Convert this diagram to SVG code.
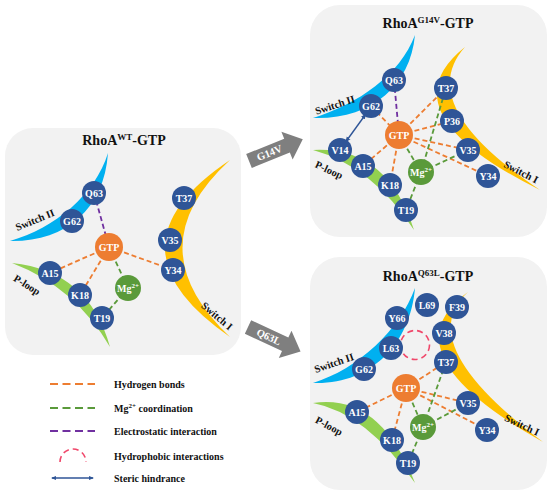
<svg xmlns="http://www.w3.org/2000/svg" width="550" height="495" viewBox="0 0 550 495">
<style>
.panel{fill:#f2f2f2}
.sw2{fill:#00b0f0}
.sw1{fill:#ffc000}
.ploop{fill:#92d050}
.res circle{fill:#2f5597}
.gtp circle{fill:#ed7d31}
.mg circle{fill:#5a9a3a}
.nl{font-family:"Liberation Serif","Times New Roman",serif;font-weight:bold;font-size:10px;fill:#fff;text-anchor:middle}
.rl{font-family:"Liberation Serif","Times New Roman",serif;font-weight:bold;font-size:10.5px;fill:#111;text-anchor:middle}
.title{font-family:"Liberation Serif","Times New Roman",serif;font-weight:bold;font-size:14px;fill:#111;text-anchor:middle}
.leg{font-family:"Liberation Serif","Times New Roman",serif;font-weight:bold;font-size:10px;fill:#111}
.h{stroke:#ed7d31;stroke-width:1.8;stroke-dasharray:5 3;fill:none}
.m{stroke:#5a9a3a;stroke-width:1.8;stroke-dasharray:5 3;fill:none}
.e{stroke:#7030a0;stroke-width:1.8;stroke-dasharray:5 3;fill:none}
.hp{stroke:#f0476a;stroke-width:1.6;stroke-dasharray:6 4;fill:none}
.st{stroke:#2f5597;stroke-width:1.4;fill:none;marker-start:url(#ah);marker-end:url(#ah)}
.lg{stroke-dasharray:8 4.5}
.arrow{fill:#7f7f7f}
.at{font-family:"Liberation Serif","Times New Roman",serif;font-weight:bold;font-size:10.5px;fill:#fff;text-anchor:middle}
</style>
<defs>
<marker id="ah" viewBox="0 0 10 10" refX="8" refY="5" markerWidth="4" markerHeight="4" orient="auto-start-reverse" markerUnits="strokeWidth">
<path d="M0,1 L10,5 L0,9 Z" fill="#2f5597"/>
</marker>
<path id="barrow" d="M0,-7.5 L41,-7.5 L41,-15 L58,0 L41,15 L41,7.5 L0,7.5 Z"/>
</defs>

<!-- panels -->
<g id="panels">
<rect class="panel" x="5" y="128" width="236" height="227" rx="28"/>
<rect class="panel" x="310" y="5" width="237" height="232" rx="30"/>
<rect class="panel" x="310" y="257" width="237" height="233" rx="30"/>
</g>

<!-- mutation arrows -->
<g id="arrow-g14v">
<use href="#barrow" class="arrow" transform="translate(249,161) rotate(-22)"/>
<text class="at" transform="translate(249,161) rotate(-22) translate(22,3.7)">G14V</text>
</g>
<g id="arrow-q63l">
<use href="#barrow" class="arrow" transform="translate(248,327) rotate(25)"/>
<text class="at" transform="translate(248,327) rotate(25) translate(23,3.7)">Q63L</text>
</g>

<!-- titles -->
<text class="title" x="124" y="145">RhoA<tspan font-size="9" dy="-5">WT</tspan><tspan dy="5">-GTP</tspan></text>
<text class="title" x="428" y="28">RhoA<tspan font-size="9" dy="-5">G14V</tspan><tspan dy="5">-GTP</tspan></text>
<text class="title" x="428" y="281">RhoA<tspan font-size="9" dy="-5">Q63L</tspan><tspan dy="5">-GTP</tspan></text>

<!-- structural regions -->
<g id="regions-wt">
<path class="sw2" d="M10,241 C65,242 104,210 108,153 C95,195 55,228 10,241 Z"/>
<path class="sw1" d="M230,160 Q100,247 230,337 Q135,247 230,160 Z"/>
<path class="ploop" d="M12,263 Q89,271 110,347 Q75,287 12,263 Z"/>
<text class="rl" transform="translate(35,220) rotate(-22)" dy="3.5">Switch II</text>
<text class="rl" transform="translate(27,285) rotate(32)" dy="3.5">P-loop</text>
<text class="rl" transform="translate(217,316) rotate(40)" dy="3.5">Switch I</text>
</g>
<g id="regions-g14v">
<path class="sw2" d="M313,118 C370,120 410,87 415,35 C400,75 358,104 313,118 Z"/>
<path class="sw1" d="M465,47 Q383,112 540,190 Q413,105 465,47 Z"/>
<path class="ploop" d="M313,150 Q387,146 414,230 Q372,166 313,150 Z"/>
<text class="rl" transform="translate(335,105) rotate(-18)" dy="3.5">Switch II</text>
<text class="rl" transform="translate(329,170) rotate(25)" dy="3.5">P-loop</text>
<text class="rl" transform="translate(521,172) rotate(27)" dy="3.5">Switch I</text>
</g>
<g id="regions-q63l">
<path class="sw2" d="M313,383 C370,385 410,345 415,288 C400,330 358,369 313,383 Z"/>
<path class="sw1" d="M468,292 Q384,353 543,442 Q411,343 468,292 Z"/>
<path class="ploop" d="M313,403 Q380,393 415,483 Q366,413 313,403 Z"/>
<text class="rl" transform="translate(334,363) rotate(-19)" dy="3.5">Switch II</text>
<text class="rl" transform="translate(329,426) rotate(28)" dy="3.5">P-loop</text>
<text class="rl" transform="translate(522,425) rotate(25)" dy="3.5">Switch I</text>
</g>

<!-- connectors -->
<g id="connectors">
<!-- WT -->
<line class="e" x1="94" y1="193" x2="109" y2="247"/>
<line class="h" x1="109" y1="247" x2="50" y2="273"/>
<line class="h" x1="109" y1="247" x2="80" y2="295"/>
<line class="h" x1="109" y1="247" x2="173" y2="270"/>
<line class="m" x1="109" y1="247" x2="128" y2="288"/>
<line class="m" x1="128" y1="288" x2="102" y2="318"/>
<!-- G14V -->
<line class="e" x1="394" y1="80" x2="399" y2="135"/>
<line class="h" x1="371" y1="106" x2="399" y2="135"/>
<line class="h" x1="399" y1="135" x2="363" y2="166"/>
<line class="h" x1="399" y1="135" x2="390" y2="185"/>
<line class="h" x1="399" y1="135" x2="446" y2="88"/>
<line class="h" x1="399" y1="135" x2="452" y2="121"/>
<line class="h" x1="399" y1="135" x2="468" y2="150"/>
<line class="h" x1="399" y1="135" x2="488" y2="176"/>
<line class="m" x1="399" y1="135" x2="421" y2="172"/>
<line class="m" x1="421" y1="172" x2="446" y2="88"/>
<line class="m" x1="421" y1="172" x2="468" y2="150"/>
<line class="m" x1="421" y1="172" x2="406" y2="210"/>
<line class="st" x1="365.5" y1="114.5" x2="346" y2="141.5"/>
<!-- Q63L -->
<circle class="hp" cx="415" cy="345" r="14.5"/>
<line class="h" x1="406" y1="388" x2="446" y2="362"/>
<line class="h" x1="406" y1="388" x2="357" y2="412"/>
<line class="h" x1="406" y1="388" x2="392" y2="440"/>
<line class="h" x1="406" y1="388" x2="468" y2="403"/>
<line class="h" x1="406" y1="388" x2="487" y2="430"/>
<line class="m" x1="406" y1="388" x2="423" y2="427"/>
<line class="m" x1="423" y1="427" x2="446" y2="362"/>
<line class="m" x1="423" y1="427" x2="468" y2="403"/>
<line class="m" x1="423" y1="427" x2="408" y2="463"/>
</g>

<!-- WT nodes -->
<g id="wt-q63" class="res"><circle cx="94" cy="193" r="12"/><text class="nl" x="94" y="196.5">Q63</text></g>
<g id="wt-g62" class="res"><circle cx="72" cy="221" r="12"/><text class="nl" x="72" y="224.5">G62</text></g>
<g id="wt-gtp" class="gtp"><circle cx="109" cy="247" r="14"/><text class="nl" x="109" y="250.5">GTP</text></g>
<g id="wt-a15" class="res"><circle cx="50" cy="273" r="12"/><text class="nl" x="50" y="276.5">A15</text></g>
<g id="wt-k18" class="res"><circle cx="80" cy="295" r="12"/><text class="nl" x="80" y="298.5">K18</text></g>
<g id="wt-t19" class="res"><circle cx="102" cy="318" r="12"/><text class="nl" x="102" y="321.5">T19</text></g>
<g id="wt-mg" class="mg"><circle cx="128" cy="288" r="13"/><text class="nl" x="128" y="291.5">Mg<tspan font-size="7" dy="-4">2+</tspan></text></g>
<g id="wt-t37" class="res"><circle cx="184" cy="198" r="12"/><text class="nl" x="184" y="201.5">T37</text></g>
<g id="wt-v35" class="res"><circle cx="170" cy="240" r="12"/><text class="nl" x="170" y="243.5">V35</text></g>
<g id="wt-y34" class="res"><circle cx="173" cy="270" r="12"/><text class="nl" x="173" y="273.5">Y34</text></g>

<!-- G14V nodes -->
<g id="g14v-q63" class="res"><circle cx="394" cy="80" r="12"/><text class="nl" x="394" y="83.5">Q63</text></g>
<g id="g14v-g62" class="res"><circle cx="371" cy="106" r="12"/><text class="nl" x="371" y="109.5">G62</text></g>
<g id="g14v-gtp" class="gtp"><circle cx="399" cy="135" r="14"/><text class="nl" x="399" y="138.5">GTP</text></g>
<g id="g14v-v14" class="res"><circle cx="340" cy="150" r="12"/><text class="nl" x="340" y="153.5">V14</text></g>
<g id="g14v-a15" class="res"><circle cx="363" cy="166" r="12"/><text class="nl" x="363" y="169.5">A15</text></g>
<g id="g14v-k18" class="res"><circle cx="390" cy="185" r="12"/><text class="nl" x="390" y="188.5">K18</text></g>
<g id="g14v-t19" class="res"><circle cx="406" cy="210" r="12"/><text class="nl" x="406" y="213.5">T19</text></g>
<g id="g14v-mg" class="mg"><circle cx="421" cy="172" r="13"/><text class="nl" x="421" y="175.5">Mg<tspan font-size="7" dy="-4">2+</tspan></text></g>
<g id="g14v-t37" class="res"><circle cx="446" cy="88" r="12"/><text class="nl" x="446" y="91.5">T37</text></g>
<g id="g14v-p36" class="res"><circle cx="452" cy="121" r="12"/><text class="nl" x="452" y="124.5">P36</text></g>
<g id="g14v-v35" class="res"><circle cx="468" cy="150" r="12"/><text class="nl" x="468" y="153.5">V35</text></g>
<g id="g14v-y34" class="res"><circle cx="488" cy="176" r="12"/><text class="nl" x="488" y="179.5">Y34</text></g>

<!-- Q63L nodes -->
<g id="q63l-l69" class="res"><circle cx="427" cy="305" r="12"/><text class="nl" x="427" y="308.5">L69</text></g>
<g id="q63l-f39" class="res"><circle cx="457" cy="307" r="12"/><text class="nl" x="457" y="310.5">F39</text></g>
<g id="q63l-y66" class="res"><circle cx="397" cy="318" r="12"/><text class="nl" x="397" y="321.5">Y66</text></g>
<g id="q63l-v38" class="res"><circle cx="444" cy="333" r="12"/><text class="nl" x="444" y="336.5">V38</text></g>
<g id="q63l-l63" class="res"><circle cx="391" cy="348" r="12"/><text class="nl" x="391" y="351.5">L63</text></g>
<g id="q63l-t37" class="res"><circle cx="446" cy="362" r="12"/><text class="nl" x="446" y="365.5">T37</text></g>
<g id="q63l-g62" class="res"><circle cx="364" cy="369" r="12"/><text class="nl" x="364" y="372.5">G62</text></g>
<g id="q63l-gtp" class="gtp"><circle cx="406" cy="388" r="14"/><text class="nl" x="406" y="391.5">GTP</text></g>
<g id="q63l-v35" class="res"><circle cx="468" cy="403" r="12"/><text class="nl" x="468" y="406.5">V35</text></g>
<g id="q63l-a15" class="res"><circle cx="357" cy="412" r="12"/><text class="nl" x="357" y="415.5">A15</text></g>
<g id="q63l-mg" class="mg"><circle cx="423" cy="427" r="13"/><text class="nl" x="423" y="430.5">Mg<tspan font-size="7" dy="-4">2+</tspan></text></g>
<g id="q63l-y34" class="res"><circle cx="487" cy="430" r="12"/><text class="nl" x="487" y="433.5">Y34</text></g>
<g id="q63l-k18" class="res"><circle cx="392" cy="440" r="12"/><text class="nl" x="392" y="443.5">K18</text></g>
<g id="q63l-t19" class="res"><circle cx="408" cy="463" r="12"/><text class="nl" x="408" y="466.5">T19</text></g>

<!-- legend -->
<g id="legend">
<line class="h lg" x1="50" y1="384" x2="95" y2="384"/>
<text class="leg" x="114" y="387.5">Hydrogen bonds</text>
<line class="m lg" x1="50" y1="408" x2="95" y2="408"/>
<text class="leg" x="114" y="411.5">Mg<tspan font-size="7" dy="-4">2+</tspan><tspan dy="4"> coordination</tspan></text>
<line class="e lg" x1="50" y1="431" x2="95" y2="431"/>
<text class="leg" x="114" y="434.5">Electrostatic interaction</text>
<path class="hp" d="M60,462 A13,13 0 1 1 86,462" stroke-dasharray="9 6"/>
<text class="leg" x="114" y="459.5">Hydrophobic interactions</text>
<line class="st" x1="52" y1="478" x2="93" y2="478"/>
<text class="leg" x="114" y="481.5">Steric hindrance</text>
</g>
</svg>
